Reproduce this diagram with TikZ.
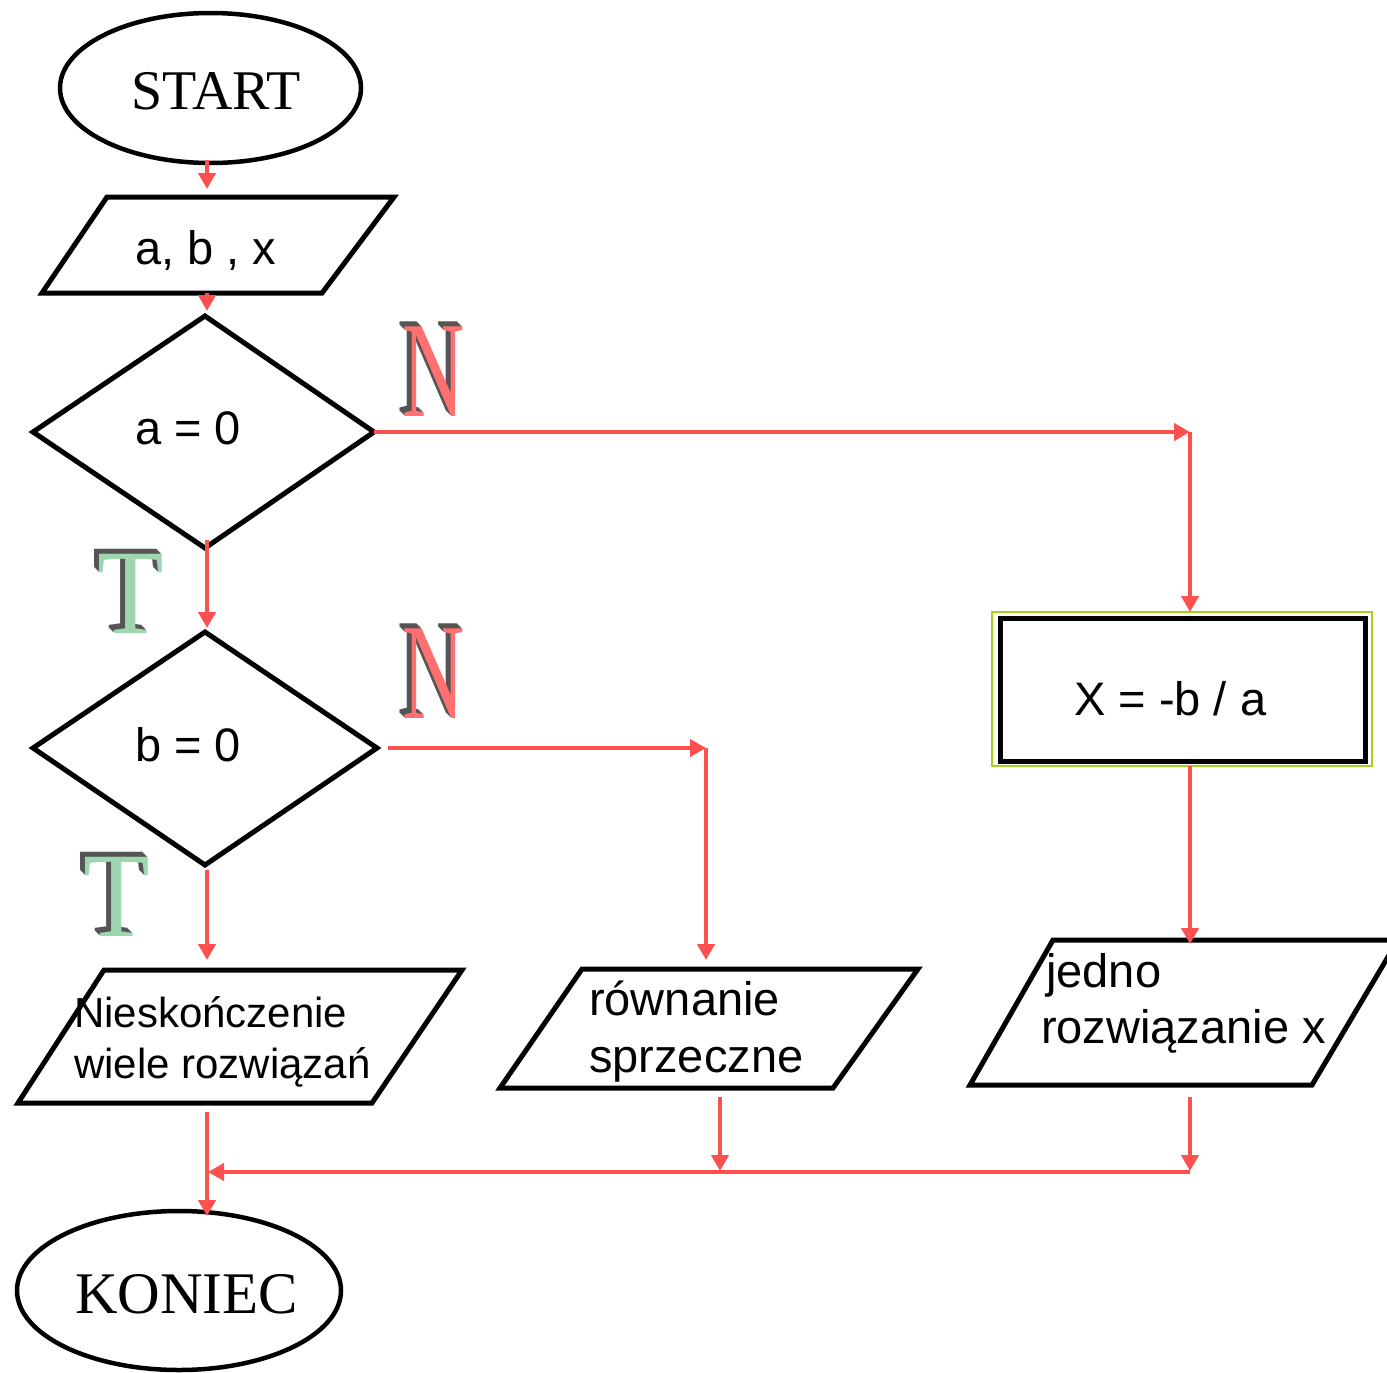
\documentclass[tikz,border=0pt]{standalone}
\usepackage{graphicx}
\usepackage{fontspec}
\setmainfont{Liberation Serif}
\newfontfamily\arial{Liberation Sans}
\usetikzlibrary{arrows.meta,shapes.geometric}
\definecolor{flowred}{RGB}{255,80,80}
\definecolor{boxgreen}{RGB}{160,210,30}
\definecolor{nface}{RGB}{255,112,112}
\definecolor{tface}{RGB}{158,214,176}
\definecolor{extrude}{RGB}{85,85,85}

\begin{document}
\begin{tikzpicture}[x=1pt,y=-1pt,
  outline/.style={draw=black, line width=5pt, line join=miter},
  terminal/.style={ellipse, draw=black, line width=4.5pt, inner sep=0pt},
  flow/.style={draw=flowred, line width=4.5pt, -{Triangle[width=17pt,length=16pt]}},
  sans/.style={font=\arial\fontsize{47}{47}\selectfont, inner sep=0pt, anchor=base west},
  smallsans/.style={font=\arial\fontsize{42}{42}\selectfont, inner sep=0pt, anchor=base west},
  serif/.style={font=\fontsize{56}{56}\selectfont, inner sep=0pt, anchor=base},
  letterN/.style={font=\fontsize{137}{137}\selectfont, inner sep=0pt, anchor=base},
  letterT/.style={font=\fontsize{121}{121}\selectfont, inner sep=0pt, anchor=base},
]
\useasboundingbox (0,0) rectangle (1387,1373);
\clip (0,0) rectangle (1387,1373);

% ---------- terminals ----------
\node[terminal, minimum width=301pt, minimum height=150pt] (start) at (210.5,88) {};
\node[serif] (starttxt) at (216,109) {START};
\node[terminal, minimum width=324pt, minimum height=159pt] (end) at (179,1290.5) {};
\node[serif, font=\fontsize{59}{59}\selectfont] (endtxt) at (186.5,1313) {KONIEC};

% ---------- input ----------
\draw[outline] (107,197) -- (394,197) -- (322,293) -- (42,293) -- cycle;
\node[sans] (input) at (135,264) {a, b , x};

% ---------- decisions ----------
\draw[outline] (205,316) -- (374,432) -- (205,548) -- (33,432) -- cycle;
\node[sans] (deca) at (135,444) {a = 0};
\draw[outline] (205,632) -- (377,748) -- (205,865) -- (33,748) -- cycle;
\node[sans] (decb) at (135,761) {b = 0};

% ---------- process ----------
\draw[draw=boxgreen, line width=1.6pt] (992,612) rectangle (1372,766);
\draw[outline] (1000,618) rectangle (1365,761);
\node[sans] (calc) at (1074,715) {X = -b / a};

% ---------- outputs ----------
\draw[outline] (104,970) -- (462,970) -- (372,1103) -- (18,1103) -- cycle;
\node[smallsans] (inf1) at (74,1027) {Nieskończenie};
\node[smallsans] (inf2) at (74,1078) {wiele rozwiązań};

\draw[outline] (582,969) -- (918,969) -- (833,1088) -- (500,1088) -- cycle;
\node[sans] (con1) at (589,1015) {równanie};
\node[sans] (con2) at (589,1072) {sprzeczne};

\draw[outline] (1053,940) -- (1398,940) -- (1312,1085) -- (970,1085) -- cycle;
\node[sans] (one1) at (1046,987) {jedno};
\node[sans] (one2) at (1041,1043) {rozwiązanie x};

% ---------- branch letters (extruded) ----------
\foreach \d in {5,4,...,1}{
  \node[letterN, text=extrude] (nAx\d) at (434-\d,416-\d) {\scalebox{0.63}[1]{N}};
  \node[letterN, text=extrude] (nBx\d) at (434-\d,718-\d) {\scalebox{0.63}[1]{N}};
  \node[letterT, text=extrude] (tAx\d) at (131-\d,633-\d) {\scalebox{0.9}[1]{T}};
  \node[letterT, text=extrude] (tBx\d) at (117-\d,936-\d) {\scalebox{0.9}[1]{T}};
}
\node[letterN, text=nface] (noA) at (434,416) {\scalebox{0.63}[1]{N}};
\node[letterN, text=nface] (noB) at (434,718) {\scalebox{0.63}[1]{N}};
\node[letterT, text=tface] (yesA) at (131,633) {\scalebox{0.9}[1]{T}};
\node[letterT, text=tface] (yesB) at (117,936) {\scalebox{0.9}[1]{T}};

% ---------- connector ends ----------
\coordinate (s0) at (207,160);   \coordinate (s1) at (207,189);
\coordinate (i0) at (207,293);   \coordinate (i1) at (207,311);
\coordinate (a0) at (207,540);   \coordinate (a1) at (207,628);
\coordinate (aN0) at (374,432);  \coordinate (aN1) at (1190,432);
\coordinate (p1) at (1190,612);
\coordinate (p2) at (1190,766);  \coordinate (p3) at (1190,944);
\coordinate (b0) at (207,870);   \coordinate (b1) at (207,960);
\coordinate (bN0) at (388,748);  \coordinate (bN1) at (706,748);
\coordinate (q1) at (706,960);
\coordinate (o1) at (207,1112);  \coordinate (o2) at (207,1216);
\coordinate (m1) at (720,1097);  \coordinate (m2) at (720,1171);
\coordinate (r1) at (1190,1097); \coordinate (r2) at (1190,1171);
\coordinate (j0) at (1190,1172); \coordinate (j1) at (208,1172);

% ---------- connectors ----------
\draw[flow] (s0) -- (s1);
\draw[flow] (i0) -- (i1);
\draw[flow] (a0) -- (a1);
\draw[flow] (aN0) -- (aN1);
\draw[flow] (aN1) -- (p1);
\draw[flow] (p2) -- (p3);
\draw[flow] (b0) -- (b1);
\draw[flow] (bN0) -- (bN1);
\draw[flow] (bN1) -- (q1);
\draw[flow] (o1) -- (o2);
\draw[flow] (m1) -- (m2);
\draw[flow] (r1) -- (r2);
\draw[flow] (j0) -- (j1);
\end{tikzpicture}
\end{document}
